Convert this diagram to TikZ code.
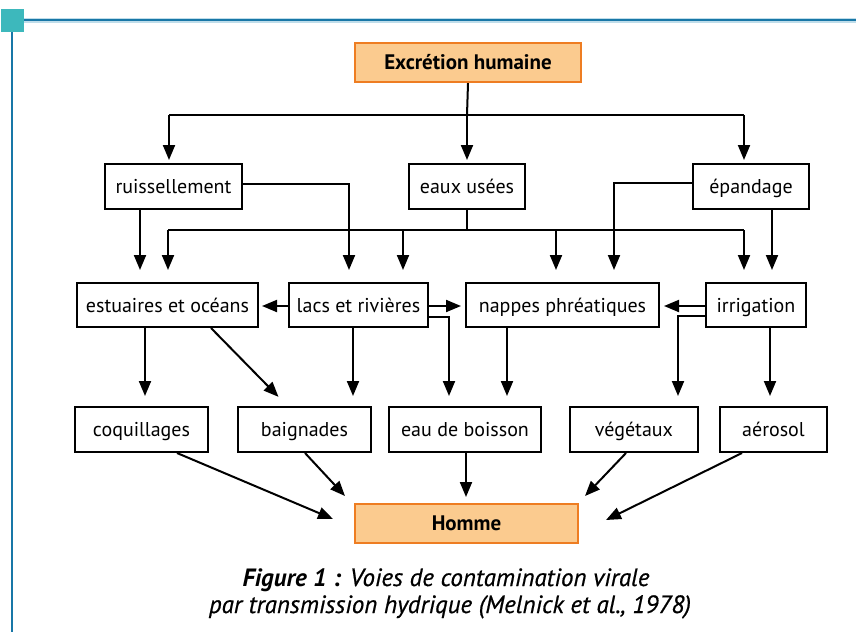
\documentclass[tikz,border=0pt]{standalone}
\usepackage{fontspec}
\setmainfont{PT Sans}
\newfontfamily\capfont{PT Sans}[ItalicFeatures={FakeBold=0.6}]
\usetikzlibrary{arrows.meta,calc}
\definecolor{orfill}{HTML}{FBCB8F}
\definecolor{ordraw}{HTML}{EE7D22}
\definecolor{framecol}{HTML}{1877A7}
\definecolor{framelight}{HTML}{BFDDEA}
\definecolor{sqcol}{HTML}{3DB8BC}
\begin{document}
\begin{tikzpicture}[x=1pt,y=-1pt,
  box/.style={draw=black,line width=2pt,inner sep=0pt,minimum height=45pt,text height=16pt,text depth=2pt,font=\fontsize{20}{24}\selectfont,text=black},
  hbox/.style={draw=ordraw,fill=orfill,line width=2.2pt,inner sep=0pt,minimum height=39pt,text height=16pt,text depth=2pt,font=\fontsize{21}{24}\selectfont\bfseries},
  link/.style={line width=2pt},
  arr/.style={line width=2pt,-{Triangle[length=15pt,width=12pt]}},
  captext/.style={font=\capfont\fontsize{25}{30}\selectfont\itshape,inner sep=0pt,anchor=base}]
\useasboundingbox (0,0) rectangle (856,632);
% frame
\draw[framelight,line width=5pt] (24,20) -- (856,20);
\draw[framecol,line width=2.8pt] (24,20) -- (856,20);
\draw[framecol,line width=2.8pt] (12,32) -- (12,632);
\fill[sqcol] (1,9) rectangle (24,32);
% nodes
\node[hbox,minimum width=226pt] (exc) at (468,62.5) {Excrétion humaine};
\node[box,minimum width=137pt] (ruis) at (173.5,186.5) {ruissellement};
\node[box,minimum width=116pt] (eaux) at (467,186.5) {eaux usées};
\node[box,minimum width=116pt] (epan) at (751,186.5) {épandage};
\node[box,minimum width=181pt,minimum height=44pt] (estu) at (167.5,305) {estuaires et océans};
\node[box,minimum width=139pt,minimum height=44pt] (lacs) at (358.5,305) {lacs et rivières};
\node[box,minimum width=193pt,minimum height=44pt] (napp) at (562.5,305) {nappes phréatiques};
\node[box,minimum width=100pt,minimum height=44pt] (irri) at (756,305) {irrigation};
\node[box,minimum width=133pt] (coq) at (141.5,429.5) {coquillages};
\node[box,minimum width=133pt] (baig) at (304.5,429.5) {baignades};
\node[box,minimum width=152pt] (eau) at (465,429.5) {eau de boisson};
\node[box,minimum width=128pt] (veg) at (634,429.5) {végétaux};
\node[box,minimum width=107pt] (aero) at (773.5,429.5) {aérosol};
\node[hbox,minimum width=223pt] (hom) at (466.5,523.5) {Homme};
% caption
\node[captext] (cap1) at (446,586) {\textbf{Figure 1 :} Voies de contamination virale};
\node[captext] (cap2) at (450,613) {par transmission hydrique (Melnick et al., 1978)};
% junction coordinates
\coordinate (t0) at (467,115);
\coordinate (t1) at (169,115);
\coordinate (t3) at (744,115);
\coordinate (e0) at (467,230);
\coordinate (e1) at (168,230);
\coordinate (e2) at (403,230);
\coordinate (e3) at (556,230);
\coordinate (e4) at (744,230);
\coordinate (r1) at (140,230);
\coordinate (r2) at (349,184);
\coordinate (p1) at (614,183);
\coordinate (p2) at (772,230);
\coordinate (l1) at (449,317);
\coordinate (i1) at (678,316);
\coordinate (h306) at (0,306);
\coordinate (d1) at (145,0);
\coordinate (d2) at (353,0);
\coordinate (d3) at (507,0);
\coordinate (d4) at (770,0);
\coordinate (s1) at (211,0);
\coordinate (s2) at (285.5,404);
% top level
\draw[link] (exc.south) -- (t0);
\draw[link] (t1) -- (t3);
\draw[arr,shorten >=3pt] (t1) -- (t1 |- ruis.north);
\draw[arr,shorten >=3pt] (t0) -- (t0 |- eaux.north);
\draw[arr,shorten >=3pt] (t3) -- (t3 |- epan.north);
% eaux usees
\draw[link] (eaux.south) -- (e0);
\draw[link] (e1) -- (e4);
\draw[arr,shorten >=12pt] (e1) -- (e1 |- estu.north);
\draw[arr,shorten >=12pt] (e2) -- (e2 |- lacs.north);
\draw[arr,shorten >=12pt] (e3) -- (e3 |- napp.north);
\draw[arr,shorten >=12pt] (e4) -- (e4 |- irri.north);
% ruissellement
\draw[arr,shorten >=12pt] (r1 |- ruis.south) -- (r1 |- estu.north);
\draw[arr,shorten >=12pt] (r2 -| ruis.east) -- (r2) -- (r2 |- lacs.north);
% epandage
\draw[arr,shorten >=12pt] (p1 -| epan.west) -- (p1) -- (p1 |- napp.north);
\draw[arr,shorten >=12pt] (p2 |- epan.south) -- (p2 |- irri.north);
% row 2 horizontals
\draw[arr,shorten >=3pt] (lacs.west |- h306) -- (estu.east |- h306);
\draw[arr,shorten >=4pt] (lacs.east |- h306) -- (napp.west |- h306);
\draw[arr,shorten >=4pt] (irri.west |- h306) -- (napp.east |- h306);
\draw[arr,shorten >=10pt] (l1 -| lacs.east) -- (l1) -- (l1 |- eau.north);
\draw[arr,shorten >=10pt] (i1 -| irri.west) -- (i1) -- (i1 |- veg.north);
% row 2 downs
\draw[arr,shorten >=10pt] (estu.south -| d1) -- (coq.north -| d1);
\draw[arr,shorten >=10pt] (estu.south -| s1) -- (s2);
\draw[arr,shorten >=10pt] (lacs.south -| d2) -- (baig.north -| d2);
\draw[arr,shorten >=10pt] (napp.south -| d3) -- (eau.north -| d3);
\draw[arr,shorten >=10pt] (irri.south -| d4) -- (aero.north -| d4);
% to Homme
\coordinate (h1) at (333,519);
\coordinate (h2) at (345,496);
\coordinate (h3) at (466,497);
\coordinate (h4) at (585,496);
\coordinate (h5) at (606,520);
\coordinate (q1) at (177,0);
\coordinate (q2) at (305,0);
\coordinate (q4) at (626,0);
\coordinate (q5) at (742,0);
\draw[arr] (coq.south -| q1) -- (h1);
\draw[arr] (baig.south -| q2) -- (h2);
\draw[arr] (eau.south -| h3) -- (h3);
\draw[arr] (veg.south -| q4) -- (h4);
\draw[arr] (aero.south -| q5) -- (h5);
\end{tikzpicture}
\end{document}
